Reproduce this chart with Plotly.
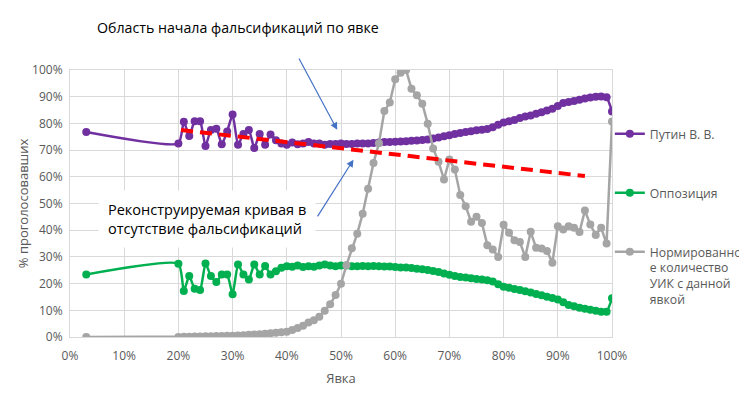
import plotly.graph_objects as go

# Явка, %
turnout = [3] + list(range(20, 101))

putin = [76.8, 72.5,
         80.6, 75.3, 80.8, 80.8, 71.5, 77.5, 78.0, 72.2, 77.0, 83.3,
         72.0, 76.0, 77.5, 70.8, 76.0, 72.0, 75.8, 73.7, 72.5, 72.0,
         72.8, 72.2, 72.5, 73.0, 72.5, 72.5, 72.0, 72.3, 72.3, 72.5,
         72.3, 72.3, 72.5, 72.5, 72.5, 72.7, 72.8, 73.0, 73.0, 73.1,
         73.2, 73.3, 73.5, 73.6, 73.8, 74.0, 74.3, 74.7, 75.2, 75.6,
         76.0, 76.4, 76.8, 77.1, 77.4, 77.6, 77.9, 78.6, 79.5, 80.3,
         80.8, 81.3, 82.0, 82.6, 83.0, 83.6, 84.2, 84.8, 85.5, 86.5,
         87.6, 88.0, 88.4, 88.9, 89.3, 89.7, 90.0, 90.1, 89.8, 84.5]

opposition = [23.4, 27.4,
              17.2, 22.8, 18.1, 17.6, 27.5, 22.8, 20.6, 23.4, 23.4, 16.0,
              27.2, 23.4, 21.5, 27.2, 23.4, 26.6, 23.4, 24.6, 25.9, 26.5,
              26.3, 26.8, 26.2, 26.5, 26.3, 26.8, 27.2, 26.8, 26.5, 26.8,
              26.8, 26.5, 26.5, 26.6, 26.5, 26.6, 26.5, 26.4, 26.4, 26.2,
              26.0, 26.0, 25.8, 25.6, 25.4, 25.1, 24.7, 24.3, 23.8, 23.3,
              22.8, 22.5, 22.3, 22.0, 21.7, 21.5, 21.3, 20.8, 19.8, 18.8,
              18.4, 18.0, 17.6, 17.1, 16.7, 16.1, 15.6, 15.1, 14.6, 14.0,
              13.0, 12.0, 11.5, 11.0, 10.6, 10.2, 9.8, 9.5, 9.5, 14.5]

stations = [0.0, 0.0,
            0.1, 0.1, 0.2, 0.2, 0.3, 0.3, 0.4, 0.4, 0.5, 0.5,
            0.6, 0.7, 0.8, 0.9, 1.0, 1.2, 1.4, 1.6, 1.8, 2.0,
            2.6, 3.4, 4.2, 5.4, 6.3, 7.6, 9.8, 12.3, 15.7, 19.9,
            26.9, 33.2, 38.7, 46.2, 55.5, 65.2, 72.6, 84.6, 87.8, 96.5,
            99.0, 100.0, 93.0, 90.5, 87.4, 79.9, 70.6, 65.6, 59.0, 66.5,
            62.7, 53.2, 49.0, 43.2, 45.0, 42.7, 34.4, 32.8, 30.0, 42.0,
            39.0, 36.2, 35.6, 30.0, 39.4, 33.4, 33.1, 32.2, 27.8, 41.5,
            40.3, 41.5, 40.9, 39.3, 47.4, 42.1, 38.2, 40.9, 35.0, 80.7]

# реконструированная кривая (прямая)
recon_x = [20.5, 95]
recon_y = [77.5, 60.3]

FONT = "Open Sans"

fig = go.Figure()

fig.add_trace(go.Scatter(
    x=turnout, y=putin, name="Путин В. В.", legendgroup="a",
    mode="lines+markers", line=dict(color="#7030A0", width=2.5, shape="spline", smoothing=0.5),
    marker=dict(size=8, color="#7030A0")))
fig.add_trace(go.Scatter(
    x=turnout, y=opposition, name="Оппозиция", legendgroup="b",
    mode="lines+markers", line=dict(color="#00B050", width=2.5, shape="spline", smoothing=0.5),
    marker=dict(size=8, color="#00B050")))
fig.add_trace(go.Scatter(
    x=turnout, y=stations, name="Нормированно<br>е количество<br>УИК с данной<br>явкой", legendgroup="c",
    mode="lines+markers", line=dict(color="#A5A5A5", width=2.5),
    marker=dict(size=8, color="#A5A5A5")))
fig.add_trace(go.Scatter(
    x=recon_x, y=recon_y, mode="lines", showlegend=False,
    line=dict(color="#FF0000", width=4, dash="12px,7px")))

# подписи и стрелки
fig.add_annotation(x=0.046, y=1.16, xref="paper", yref="paper", xanchor="left", yanchor="middle",
                   showarrow=False, text="Область начала фальсификаций по явке",
                   font=dict(family=FONT, size=14.2, color="#000000"))
fig.add_annotation(x=49.3, y=77.6, ax=42.1, ay=104.9, xref="x", yref="y", axref="x", ayref="y",
                   showarrow=True, arrowhead=2, arrowsize=1.2, arrowwidth=1.2, arrowcolor="#4472C4", text="")
fig.add_annotation(x=52.3, y=66.4, ax=45.5, ay=44.6, xref="x", yref="y", axref="x", ayref="y",
                   showarrow=True, arrowhead=2, arrowsize=1.2, arrowwidth=1.2, arrowcolor="#4472C4", text="")
fig.add_annotation(x=5.2, y=44.2, xref="x", yref="y", xanchor="left", showarrow=False, align="left",
                   text="Реконструируемая кривая в<br>отсутствие фальсификаций",
                   bgcolor="white", borderpad=9,
                   font=dict(family=FONT, size=14.5, color="#000000"))

fig.update_xaxes(range=[0, 100], dtick=10, ticksuffix="%", showgrid=True, gridcolor="#D9D9D9",
                 zeroline=False, showline=True, linecolor="#D9D9D9", mirror=True, automargin=False,
                 ticklabelstandoff=8,
                 tickfont=dict(family=FONT, size=12, color="#595959"),
                 title=dict(text="Явка", font=dict(family=FONT, size=13, color="#595959"), standoff=10))
fig.update_yaxes(range=[0, 100], dtick=10, ticksuffix="%", showgrid=True, gridcolor="#D9D9D9",
                 zeroline=False, showline=True, linecolor="#D9D9D9", mirror=True, automargin=False,
                 ticklabelstandoff=4,
                 tickfont=dict(family=FONT, size=12, color="#595959"),
                 title=dict(text="% проголосовавших", font=dict(family=FONT, size=13, color="#595959"), standoff=0))

# страница добавляет отступ 8px, поэтому фигура чуть меньше окна
fig.update_layout(
    width=739, height=390,
    margin=dict(l=62, r=135, t=62, b=61, autoexpand=False),
    plot_bgcolor="white", paper_bgcolor="white",
    font=dict(family=FONT, color="#595959"),
    legend=dict(x=0.996, y=0.815, xanchor="left", yanchor="top", tracegroupgap=40, valign="top",
                font=dict(family=FONT, size=12.2, color="#595959"), bgcolor="rgba(0,0,0,0)"),
)

fig.write_html("out.html")
